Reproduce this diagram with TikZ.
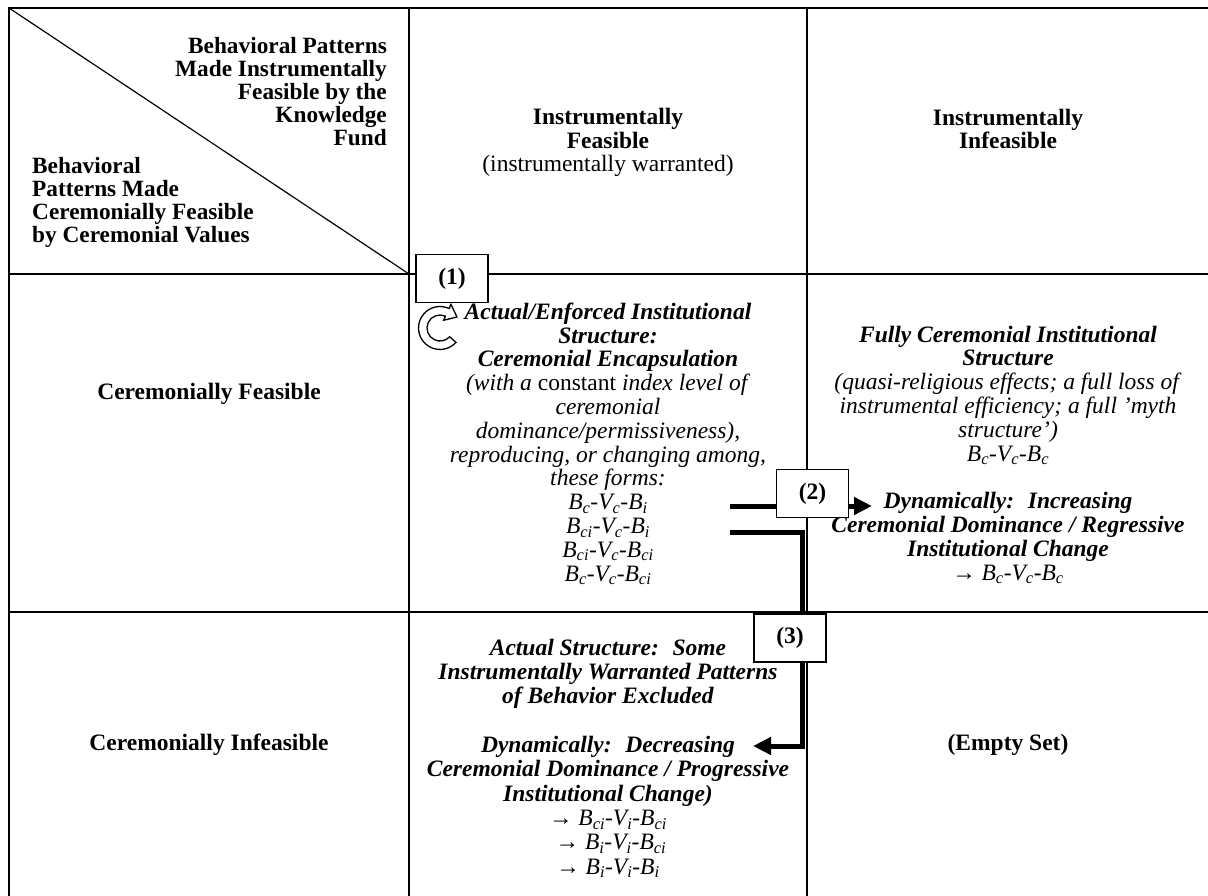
\documentclass[tikz,border=0pt]{standalone}
\usepackage{fontspec}
\setmainfont{Liberation Serif}
\usetikzlibrary{arrows.meta}
\newcommand{\sbs}[1]{\textsubscript{#1}}
\newcommand{\bi}[1]{\textbf{\textit{#1}}}
\tikzset{
  gridline/.style={line width=2.6pt},
  hdr/.style={font=\fontsize{23.3}{23}\selectfont\bfseries, inner sep=0pt},
  body/.style={font=\fontsize{23.5}{23.8}\selectfont, inner sep=0pt, align=center, anchor=base},
  numbox/.style={draw, line width=1.5pt, fill=white, inner sep=0pt, minimum width=72pt, minimum height=48pt, font=\fontsize{23.5}{23}\selectfont\bfseries},
  flow/.style={line width=5pt, line join=miter, -{Triangle[length=18pt,width=17pt]}},
}
\begin{document}
\begin{tikzpicture}[x=1pt,y=-1pt]
\useasboundingbox (0,0) rectangle (1208,896);
\fill[white] (0,0) rectangle (1208,896);
\clip (0,0) rectangle (1208,896);
% grid
\draw[gridline] (7.7,8) -- (1212,8);
\draw[gridline] (9,6.7) -- (9,900);
\draw[gridline] (409,8) -- (409,900);
\draw[gridline] (807,8) -- (807,900);
\draw[gridline] (9,274) -- (1212,274);
\draw[gridline] (9,612) -- (1212,612);
\coordinate (tl) at (9,8);
\coordinate (cx) at (409,274);
\draw[line width=1.2pt] (tl) -- (cx);
% headers (anchor = baseline of last line)
\node[hdr, align=right, anchor=base east] (h1) at (387,146) {Behavioral Patterns\\Made Instrumentally\\Feasible by the\\Knowledge\\Fund};
\node[hdr, align=left, anchor=base west] (h2) at (32,243) {Behavioral\\Patterns Made\\Ceremonially Feasible\\by Ceremonial Values};
\node[body] (c1) at (608,172) {\textbf{Instrumentally}\\\textbf{Feasible}\\(instrumentally warranted)};
\node[body] (c2) at (1008,149) {\textbf{Instrumentally}\\\textbf{Infeasible}};
\node[body] (r1) at (209,399) {\textbf{Ceremonially Feasible}};
\node[body] (r2) at (209,750) {\textbf{Ceremonially Infeasible}};
\node[body] (e1) at (1008,750) {\textbf{(Empty Set)}};
% cells
\node[body] (m1) at (608,581) {\bi{Actual/Enforced Institutional}\\
\bi{Structure:}\\
\bi{Ceremonial Encapsulation}\\
\textit{(with a} constant \textit{index level of}\\
\textit{ceremonial}\\
\textit{dominance/permissiveness),}\\
\textit{reproducing, or changing among,}\\
\textit{these forms:}\\
\textit{B\sbs{c}-V\sbs{c}-B\sbs{i}}\\
\textit{B\sbs{ci}-V\sbs{c}-B\sbs{i}}\\
\textit{B\sbs{ci}-V\sbs{c}-B\sbs{ci}}\\
\textit{B\sbs{c}-V\sbs{c}-B\sbs{ci}}};
\node[body] (m2) at (1008,580) {\bi{Fully Ceremonial Institutional}\\
\bi{Structure}\\
\textit{(quasi-religious effects; a full loss of}\\
\textit{instrumental efficiency; a full ’myth}\\
\textit{structure’)}\\
\textit{B\sbs{c}-V\sbs{c}-B\sbs{c}}\\[23.8pt]
\bi{Dynamically:~ Increasing}\\
\bi{Ceremonial Dominance / Regressive}\\
\bi{Institutional Change}\\
→ \textit{B\sbs{c}-V\sbs{c}-B\sbs{c}}};
\node[body, font=\fontsize{23.5}{24.3}\selectfont] (m3) at (608,874) {\bi{Actual Structure:~ Some}\\
\bi{Instrumentally Warranted Patterns}\\
\bi{of Behavior Excluded}\\[24.3pt]
\bi{Dynamically:~ Decreasing}\\
\bi{Ceremonial Dominance / Progressive}\\
\bi{Institutional Change)}\\
→ \textit{B\sbs{ci}-V\sbs{i}-B\sbs{ci}}\\
\ → \textit{B\sbs{i}-V\sbs{i}-B\sbs{ci}}\\
→ \textit{B\sbs{i}-V\sbs{i}-B\sbs{i}}};
% connectors
\coordinate (s2) at (730,506);
\coordinate (t2) at (872,506);
\coordinate (s3) at (730,532);
\coordinate (k3) at (802,746);
\coordinate (t3) at (753,746);
\draw[flow] (s2) -- (t2);
\draw[flow] (s3) -| (k3) -- (t3);
% circular arrow
\begin{scope}[shift={(440,328)}, x=1pt, y=1pt]
\filldraw[fill=white, draw=black, line width=1.3pt, line join=miter]
  (318:13pt) -- (318:21.5pt) arc[start angle=318, end angle=65, radius=21.5pt]
  -- (65:26pt) -- (17pt,11pt) -- (65:8.5pt) -- (65:13pt)
  arc[start angle=65, end angle=318, radius=13pt] -- cycle;
\end{scope}
% number boxes
\node[numbox] (b1) at (452,278.5) {(1)};
\node[numbox] (b2) at (812.5,493.5) {(2)};
\node[numbox] (b3) at (790,638) {(3)};
\end{tikzpicture}
\end{document}
